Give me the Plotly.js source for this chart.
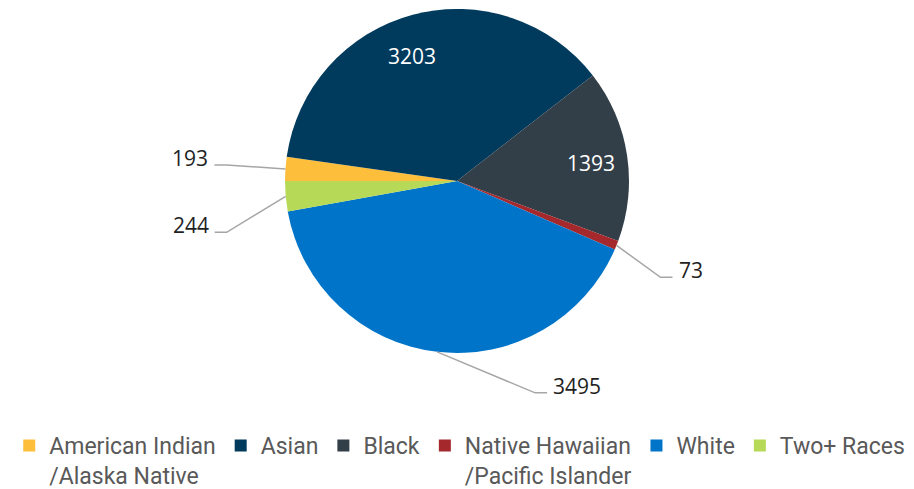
<!DOCTYPE html>
<html>
<head>
<meta charset="utf-8">
<script src="https://cdn.plot.ly/plotly-3.0.1.min.js"></script>
<style>html,body{margin:0;padding:0;background:#fff;overflow:hidden}#chart{width:914px;height:497px}</style>
</head>
<body>
<div id="chart"></div>
<script>
// ---- data ----
const categories = ['American Indian<br>/Alaska Native', 'Asian', 'Black', 'Native Hawaiian<br>/Pacific Islander', 'White', 'Two+ Races'];
const values = [193, 3203, 1393, 73, 3495, 244];
const colors = ['#FDBF3B', '#003A5C', '#323E48', '#A4282C', '#0074C8', '#B6DA57'];

// ---- layout / style ----
const W = 914, H = 497; // legend padding extends just below the 489px window
const pieCenterPx = [457, 181], pieRadiusPx = 172;
const dom = {
  x: [(pieCenterPx[0] - pieRadiusPx) / W, (pieCenterPx[0] + pieRadiusPx) / W],
  y: [1 - (pieCenterPx[1] + pieRadiusPx) / H, 1 - (pieCenterPx[1] - pieRadiusPx) / H]
};
const rotation = 270; // start at 9 o'clock, clockwise
// label placement: 'in' => radial fraction (+ pixel shift); 'out' => elbow offset (px) from rim point
const labelStyle = [
  {mode: 'out', elbow: [-59, -4]},
  {mode: 'in', r: 0.78, shift: [-11, 5]},
  {mode: 'in', r: 0.79, shift: [0, 3]},
  {mode: 'out', elbow: [44, 32]},
  {mode: 'out', elbow: [98, 41]},
  {mode: 'out', elbow: [-59, 36]}
];

const cx = W * (dom.x[0] + dom.x[1]) / 2;
const cy = H * (1 - (dom.y[0] + dom.y[1]) / 2);
const R = Math.min(W * (dom.x[1] - dom.x[0]), H * (dom.y[1] - dom.y[0])) / 2;
const px = x => x / W, py = y => 1 - y / H;

const total = values.reduce((a, b) => a + b, 0);
let acc = rotation;
const annotations = [], shapes = [];
values.forEach((v, i) => {
  const span = v / total * 360;
  const mid = (acc + span / 2) * Math.PI / 180;
  acc += span;
  const sx = Math.sin(mid), sy = -Math.cos(mid);
  const st = labelStyle[i];
  if (st.mode === 'in') {
    annotations.push({
      xref: 'paper', yref: 'paper',
      x: px(cx + sx * R * st.r + st.shift[0]), y: py(cy + sy * R * st.r + st.shift[1]),
      text: String(v), showarrow: false, xanchor: 'center', yanchor: 'middle',
      font: {family: 'Open Sans, sans-serif', size: 21, color: '#ffffff'}
    });
  } else {
    const rx = cx + sx * R, ry = cy + sy * R;
    const ex = rx + st.elbow[0], ey = ry + st.elbow[1];
    const dir = st.elbow[0] < 0 ? -1 : 1;
    const hx = ex + dir * 12;
    shapes.push({
      type: 'path', xref: 'paper', yref: 'paper',
      path: `M${px(rx)},${py(ry)} L${px(ex)},${py(ey)} L${px(hx)},${py(ey)}`,
      line: {color: '#A6A6A6', width: 1.5}
    });
    annotations.push({
      xref: 'paper', yref: 'paper', x: px(hx + dir * 4), y: py(ey - 7),
      text: String(v), showarrow: false, xanchor: dir < 0 ? 'right' : 'left', yanchor: 'middle',
      font: {family: 'Open Sans, sans-serif', size: 21, color: '#1f1f1f'}
    });
  }
});

const trace = {
  type: 'pie',
  labels: categories,
  values: values,
  marker: {colors: colors, line: {width: 0}},
  sort: false,
  direction: 'clockwise',
  rotation: rotation,
  textinfo: 'none',
  hoverinfo: 'label+value',
  domain: dom
};

const layout = {
  width: W, height: H,
  margin: {l: 0, r: 0, t: 0, b: 0},
  paper_bgcolor: '#ffffff',
  showlegend: true,
  legend: {
    orientation: 'h', x: 0.503, xanchor: 'center', y: 0, yanchor: 'bottom',
    valign: 'top', traceorder: 'normal',
    font: {family: 'Roboto, sans-serif', size: 23, color: '#595959'}
  },
  annotations: annotations,
  shapes: shapes
};

Plotly.newPlot('chart', [trace], layout, {displayModeBar: false, staticPlot: true});
</script>
</body>
</html>
